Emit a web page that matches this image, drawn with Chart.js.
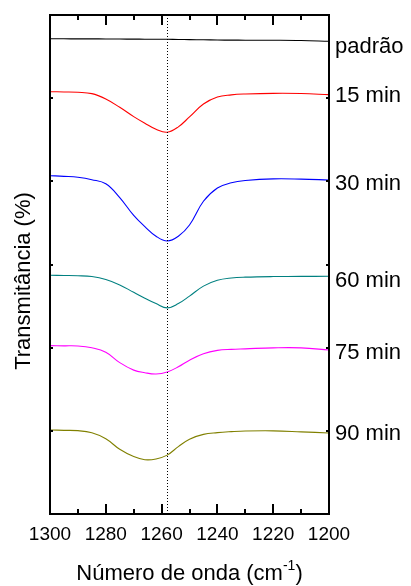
<!DOCTYPE html>
<html lang="pt">
<head>
<meta charset="utf-8">
<title>Transmitância — espectros IV</title>
<script src="https://cdn.jsdelivr.net/npm/chart.js@4.4.1/dist/chart.umd.min.js"></script>
<style>
  html, body { margin: 0; padding: 0; background: #fff; }
  #wrap { width: 411px; height: 586px; position: relative; }
</style>
</head>
<body>
<div id="wrap"><canvas id="irChart"></canvas></div>
<script>
/* IR spectra, 1300–1200 cm-1, stacked curves */

const WAVENUMBERS = [1300, 1295, 1290, 1285, 1280, 1275, 1270, 1266, 1262, 1258,
                     1254, 1250, 1245, 1240, 1235, 1230, 1220, 1210, 1200];

const PADRAO = [57.15, 57.14, 57.13, 57.13, 57.12, 57.11, 57.10, 57.09, 57.09, 57.08,
                57.06, 57.04, 57.02, 56.99, 56.98, 56.97, 56.96, 56.93, 56.84];
const MIN_15 = [50.78, 50.75, 50.71, 50.55, 49.90, 48.90, 47.78, 46.98, 46.25, 45.90,
                46.55, 47.75, 49.30, 50.15, 50.40, 50.50, 50.58, 50.56, 50.42];
const MIN_30 = [40.68, 40.60, 40.49, 40.20, 39.70, 38.05, 35.90, 34.55, 33.40, 32.83,
                33.40, 34.75, 37.60, 39.20, 39.83, 40.10, 40.30, 40.27, 40.16];
const MIN_60 = [28.70, 28.68, 28.65, 28.55, 28.20, 27.55, 26.65, 25.95, 25.30, 24.78,
                25.30, 26.20, 27.40, 28.10, 28.38, 28.48, 28.55, 28.57, 28.58];
const MIN_75 = [20.24, 20.22, 20.20, 19.98, 19.45, 18.20, 17.30, 16.99, 16.84, 17.08,
                17.70, 18.50, 19.27, 19.67, 19.80, 19.86, 19.98, 19.98, 19.72];
const MIN_90 = [10.10, 10.06, 10.02,  9.76,  9.05,  7.78,  6.90,  6.53,  6.62,  7.08,
                 8.10,  9.00,  9.57,  9.78,  9.90,  9.98, 10.00,  9.88,  9.74];

const SERIES_NAMES  = ["padrão", "15 min", "30 min", "60 min", "75 min", "90 min"];
const SERIES_COLORS = ["#000000", "#ff0000", "#0000ff", "#008080", "#ff00ff", "#808000"];
const LABEL_Y       = [56.42, 50.48, 39.96, 28.26, 19.56, 9.86];

const X_MIN = 1200, X_MAX = 1300, X_STEP = 10, X_LABEL_STEP = 20;
const Y_MIN = 0, Y_MAX = 60, Y_STEP = 10;
const PEAK_LINE = 1258;

const FONT = "'Liberation Sans', Arial, Helvetica, sans-serif";

const ALL_SERIES = [PADRAO, MIN_15, MIN_30, MIN_60, MIN_75, MIN_90];

const datasets = ALL_SERIES.map((vals, i) => ({
  label: SERIES_NAMES[i],
  data: WAVENUMBERS.map((w, j) => ({ x: w, y: vals[j] })),
  borderColor: SERIES_COLORS[i],
  borderWidth: 1.1,
  pointRadius: 0,
  tension: 0.4,
  fill: false,
}));

// frame, inward ticks, dotted peak line, right labels and axis titles
const decorations = {
  id: "decorations",
  afterDatasetsDraw(chart) {
    const { ctx, chartArea: a, scales: { x, y } } = chart;
    ctx.save();

    // dotted line at the peak
    const px = x.getPixelForValue(PEAK_LINE);
    ctx.strokeStyle = "#000";
    ctx.lineWidth = 1;
    ctx.setLineDash([1, 2]);
    ctx.beginPath();
    ctx.moveTo(Math.round(px) + 0.5, a.top);
    ctx.lineTo(Math.round(px) + 0.5, a.bottom);
    ctx.stroke();
    ctx.setLineDash([]);

    // frame
    ctx.lineWidth = 2;
    ctx.strokeRect(a.left, a.top, a.right - a.left, a.bottom - a.top);

    // x ticks, inward, top and bottom
    ctx.lineWidth = 2;
    ctx.beginPath();
    for (let v = X_MIN; v <= X_MAX; v += X_STEP) {
      const tx = Math.round(x.getPixelForValue(v));
      const len = v % X_LABEL_STEP === 0 ? 10 : 5;
      ctx.moveTo(tx, a.bottom); ctx.lineTo(tx, a.bottom - len);
      ctx.moveTo(tx, a.top);    ctx.lineTo(tx, a.top + len);
    }
    // y ticks, tiny, both sides
    for (let v = Y_MIN + Y_STEP; v < Y_MAX; v += Y_STEP) {
      const ty = Math.round(y.getPixelForValue(v));
      ctx.moveTo(a.left, ty);  ctx.lineTo(a.left + 3, ty);
      ctx.moveTo(a.right, ty); ctx.lineTo(a.right - 3, ty);
    }
    ctx.stroke();

    // curve labels on the right
    ctx.fillStyle = "#000";
    ctx.font = "22px " + FONT;
    ctx.textAlign = "left";
    ctx.textBaseline = "alphabetic";
    SERIES_NAMES.forEach((name, i) => {
      ctx.fillText(name, a.right + 6, y.getPixelForValue(LABEL_Y[i]) + 8);
    });

    // x title with superscript
    const base = "Número de onda (cm";
    const sup  = "-1";
    const tail = ")";
    ctx.font = "22px " + FONT;
    const wBase = ctx.measureText(base).width;
    const wTail = ctx.measureText(tail).width;
    ctx.font = "14px " + FONT;
    const wSup = ctx.measureText(sup).width;
    let tx = (a.left + a.right) / 2 - (wBase + wSup + wTail) / 2;
    const ty = 580;
    ctx.font = "22px " + FONT;
    ctx.fillText(base, tx, ty);
    tx += wBase;
    ctx.font = "14px " + FONT;
    ctx.fillText(sup, tx, ty - 10);
    tx += wSup;
    ctx.font = "22px " + FONT;
    ctx.fillText(tail, tx, ty);

    // y title
    ctx.translate(30, 281);
    ctx.rotate(-Math.PI / 2);
    ctx.textAlign = "center";
    ctx.fillText("Transmitância (%)", 0, 0);

    ctx.restore();
  },
};

new Chart(document.getElementById("irChart"), {
  type: "line",
  data: { datasets },
  options: {
    responsive: true,
    maintainAspectRatio: false,
    animation: false,
    layout: { padding: { top: 15, right: 82, left: 0, bottom: 0 } },
    plugins: {
      legend: { display: false },
      tooltip: { enabled: false },
    },
    scales: {
      x: {
        type: "linear",
        reverse: true,
        min: X_MIN,
        max: X_MAX,
        grid: { display: false, drawTicks: false },
        border: { display: false },
        afterFit: s => { s.height = 72; },
        ticks: {
          stepSize: X_STEP,
          autoSkip: false,
          maxRotation: 0,
          padding: 9,
          color: "#000",
          font: { family: FONT, size: 19 },
          callback: v => (v % X_LABEL_STEP === 0 ? String(v) : ""),
        },
      },
      y: {
        min: Y_MIN,
        max: Y_MAX,
        grid: { display: false, drawTicks: false },
        border: { display: false },
        afterFit: s => { s.width = 50; },
        ticks: { display: false, stepSize: Y_STEP },
      },
    },
  },
  plugins: [decorations],
});
</script>
</body>
</html>
